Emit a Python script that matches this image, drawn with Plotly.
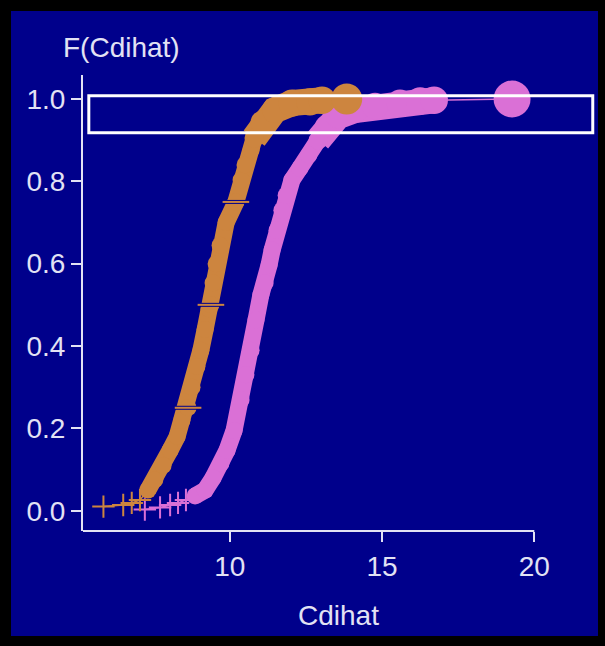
import plotly.graph_objects as go

# ---------------- data ----------------
ORANGE_X = [5.85, 6.50, 6.78, 7.05, 7.31, 7.54, 7.81, 8.04, 8.27, 8.43, 8.63, 8.76,
            8.92, 9.05, 9.19, 9.32, 9.38, 9.45, 9.55, 9.68, 9.88, 10.20, 10.37, 10.50,
            10.70, 10.80, 11.06, 11.48, 12.04, 12.63, 13.03, 13.84]
ORANGE_F = [0.010, 0.014, 0.019, 0.026, 0.050, 0.075, 0.110, 0.147, 0.180, 0.220, 0.250, 0.300,
            0.350, 0.390, 0.440, 0.490, 0.500, 0.553, 0.600, 0.645, 0.700, 0.750, 0.803, 0.840,
            0.876, 0.905, 0.944, 0.973, 0.990, 0.993, 0.997, 1.000]

ORANGE_QUART_X = [8.63, 9.38, 10.20]
ORANGE_QUART_F = [0.25, 0.50, 0.75]

PINK_X = [7.21, 7.71, 8.04, 8.30, 8.56, 8.86, 9.19, 9.45, 9.71, 9.91, 10.14, 10.37,
          10.53, 10.70, 10.86, 11.02, 11.16, 11.29, 11.39, 11.55, 11.71, 11.85, 12.04,
          12.30, 12.60, 12.90, 13.16, 13.55, 14.11, 14.77, 15.59, 16.25, 16.71, 19.27]
PINK_F = [0.003, 0.008, 0.014, 0.019, 0.026, 0.036, 0.050, 0.080, 0.115, 0.147, 0.195, 0.269,
          0.330, 0.390, 0.463, 0.524, 0.553, 0.597, 0.633, 0.681, 0.730, 0.766, 0.803,
          0.832, 0.864, 0.900, 0.934, 0.958, 0.973, 0.983, 0.990, 0.995, 0.997, 1.000]

X_TICKS = [10, 15, 20]
Y_TICKS = [0.0, 0.2, 0.4, 0.6, 0.8, 1.0]
Y_TICK_TEXT = ["0.0", "0.2", "0.4", "0.6", "0.8", "1.0"]

SELECT_X = [5.37, 21.92]
SELECT_F = [0.918, 1.008]

X_TITLE = "Cdihat"
Y_TITLE = "F(Cdihat)"

# ---------------- style ----------------
NAVY = "#00008B"
FG = "#E2E2F4"
ORANGE = "#CD853F"
PINK = "#DA70D6"
FONT = "Liberation Sans, Arial, sans-serif"

W, H = 605, 646
ML, MR, MT, MB = 83, 7, 75, 115
PW, PH = W - ML - MR, H - MT - MB
XR = [5.179, 5.179 + PW / 30.45]
YR = [-0.0493, -0.0493 + PH / 411.7]

TAIL_LIMIT = 0.03
UPPER_LIMIT = 0.88


def marker_size(f):
    if f < UPPER_LIMIT:
        return 17
    return 17 + (f - UPPER_LIMIT) / (1 - UPPER_LIMIT) * 11


fig = go.Figure()

for X, F, color, last_size in [(PINK_X, PINK_F, PINK, 37), (ORANGE_X, ORANGE_F, ORANGE, 31)]:
    tail = [i for i, f in enumerate(F) if f < TAIL_LIMIT]
    body = [i for i, f in enumerate(F) if f >= TAIL_LIMIT]
    # thin connecting line through every point
    fig.add_trace(go.Scatter(x=X, y=F, mode="lines", line=dict(color=color, width=1.5),
                             hoverinfo="skip", showlegend=False))
    # thick band under the circles (narrow in the middle, wider in the upper tail)
    band = body[:-1]
    lower = [i for i in band if F[i] <= UPPER_LIMIT + 0.03]
    upper = [i for i in band if F[i] >= UPPER_LIMIT + 0.02]
    for seg, wid in [(lower, 17), (upper, 26)]:
        fig.add_trace(go.Scatter(x=[X[i] for i in seg], y=[F[i] for i in seg], mode="lines",
                                 line=dict(color=color, width=wid), hoverinfo="skip",
                                 showlegend=False))
    sizes = [marker_size(F[i]) for i in body]
    sizes[-1] = last_size
    fig.add_trace(go.Scatter(x=[X[i] for i in body], y=[F[i] for i in body], mode="markers",
                             marker=dict(symbol="circle", size=sizes, color=color, opacity=1,
                                         line=dict(width=0)),
                             showlegend=False))
    fig.add_trace(go.Scatter(x=[X[i] for i in tail], y=[F[i] for i in tail], mode="markers",
                             marker=dict(symbol="cross-thin", size=16, color=color, opacity=1,
                                         line=dict(color=color, width=2)),
                             showlegend=False))

# quartile dashes on the orange curve
fig.add_trace(go.Scatter(x=ORANGE_QUART_X, y=ORANGE_QUART_F, mode="markers",
                         marker=dict(symbol="line-ew", size=22, opacity=1,
                                     line=dict(color=NAVY, width=4)),
                         showlegend=False, hoverinfo="skip"))
fig.add_trace(go.Scatter(x=ORANGE_QUART_X, y=ORANGE_QUART_F, mode="markers",
                         marker=dict(symbol="line-ew", size=19, opacity=1,
                                     line=dict(color=ORANGE, width=2)),
                         showlegend=False))

shapes = [
    # navy panel inside the black frame
    dict(type="rect", xref="paper", yref="paper", layer="below",
         x0=(11 - ML) / PW, x1=(598 - ML) / PW, y0=(H - MB - 636) / PH, y1=(H - MB - 11) / PH,
         fillcolor=NAVY, line=dict(width=0)),
    # x axis line from the y axis to the last tick
    dict(type="line", xref="x", yref="paper", x0=XR[0], x1=X_TICKS[-1], y0=0, y1=0,
         line=dict(color=FG, width=2)),
    # selection rectangle
    dict(type="rect", xref="x", yref="y", x0=SELECT_X[0], x1=SELECT_X[1],
         y0=SELECT_F[0], y1=SELECT_F[1], line=dict(color="white", width=3)),
]

fig.update_layout(
    width=W, height=H,
    margin=dict(l=ML, r=MR, t=MT, b=MB, pad=0),
    paper_bgcolor="black", plot_bgcolor=NAVY,
    font=dict(family=FONT, size=28, color=FG),
    showlegend=False,
    hovermode=False,
    shapes=shapes,
    xaxis=dict(range=XR, tickvals=X_TICKS, ticks="outside", ticklen=10, tickwidth=2,
               tickcolor=FG, showgrid=False, zeroline=False, showline=False,
               tickfont=dict(size=28, color=FG)),
    yaxis=dict(range=YR, tickvals=Y_TICKS, ticktext=Y_TICK_TEXT, ticks="outside", ticklen=10,
               tickwidth=2, tickcolor=FG, showgrid=False, zeroline=False, showline=True,
               linecolor=FG, linewidth=2, tickfont=dict(size=28, color=FG)),
    annotations=[
        dict(text=Y_TITLE, xref="paper", yref="paper", x=(121 - ML) / PW, y=(H - MB - 47) / PH,
             xanchor="center", yanchor="middle", showarrow=False, font=dict(size=28, color=FG)),
        dict(text=X_TITLE, xref="paper", yref="paper", x=(338 - ML) / PW, y=(H - MB - 615) / PH,
             xanchor="center", yanchor="middle", showarrow=False, font=dict(size=28, color=FG)),
    ],
)

fig.write_html(
    "out.html",
    config={"displayModeBar": False, "staticPlot": True},
    post_script="document.body.style.margin='0';document.body.style.background='black';",
)
